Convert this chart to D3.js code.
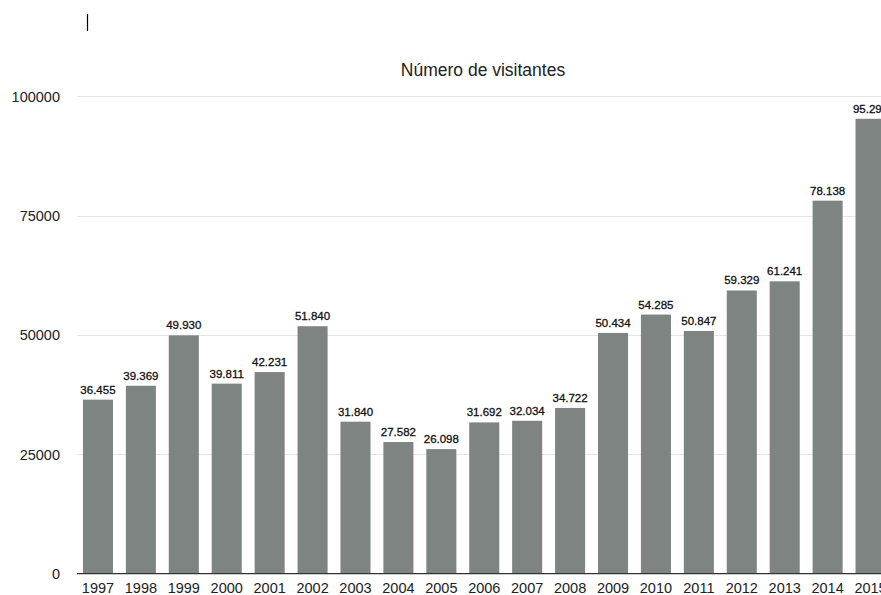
<!DOCTYPE html>
<html>
<head>
<meta charset="utf-8">
<script src="https://cdn.jsdelivr.net/npm/d3@7"></script>
<style>
  html, body { margin: 0; padding: 0; background: #fff; overflow: hidden; }
  svg { display: block; font-family: "Liberation Sans", Arial, Helvetica, sans-serif; }
</style>
</head>
<body>
<svg id="chart" width="881" height="595"></svg>
<script>
// Visitors per year
const years = ["1997","1998","1999","2000","2001","2002","2003","2004","2005","2006",
               "2007","2008","2009","2010","2011","2012","2013","2014","2015"];
const visitors = [36455, 39369, 49930, 39811, 42231, 51840, 31840, 27582, 26098, 31692,
                  32034, 34722, 50434, 54285, 50847, 59329, 61241, 78138, 95290];
const yTicks = [0, 25000, 50000, 75000, 100000];
const chartTitle = "Número de visitantes";

const svg = d3.select("#chart");

// The plot runs a little past the right edge of the window
const x = d3.scaleBand()
  .domain(years)
  .range([76.5, 892])
  .paddingInner(0.3)
  .paddingOuter(0.15);

const y = d3.scaleLinear()
  .domain([0, 100000])
  .range([573.7, 96.3]);

// European number style: "." as thousands separator
const fmt = d3.formatLocale({ decimal: ",", thousands: ".", grouping: [3], currency: ["", "€"] }).format(",d");

// Text cursor mark
svg.append("line")
  .attr("x1", 87.5).attr("x2", 87.5)
  .attr("y1", 14).attr("y2", 31)
  .attr("stroke", "#000").attr("stroke-width", 1.2);

// Title
svg.append("text")
  .attr("x", 483).attr("y", 76)
  .attr("text-anchor", "middle")
  .attr("font-size", 17.5)
  .attr("fill", "#222")
  .text(chartTitle);

// Horizontal gridlines with labels on the left
const yAxis = d3.axisLeft(y)
  .tickValues(yTicks)
  .tickSize(0)
  .tickPadding(0)
  .tickFormat(d3.format("d"));

const gy = svg.append("g").attr("transform", "translate(60,0)").call(yAxis);
gy.select(".domain").remove();
gy.selectAll("text")
  .attr("font-size", 14.5)
  .attr("font-family", "Liberation Sans, Arial, sans-serif")
  .attr("fill", "#222")
  .attr("dy", "0.34em");

svg.append("g")
  .selectAll("line")
  .data(yTicks.filter(d => d > 0))
  .join("line")
  .attr("x1", 77).attr("x2", 900)
  .attr("y1", d => Math.round(y(d)) + 0.5)
  .attr("y2", d => Math.round(y(d)) + 0.5)
  .attr("stroke", "#e4e4e4")
  .attr("stroke-width", 1);

// Bars
svg.append("g")
  .selectAll("rect")
  .data(visitors)
  .join("rect")
  .attr("x", (d, i) => x(years[i]))
  .attr("y", d => y(d))
  .attr("width", x.bandwidth())
  .attr("height", d => y(0) - y(d))
  .attr("fill", "#7e8481");

// Value labels above bars (slightly heavier stroke for a medium weight)
svg.append("g")
  .selectAll("text")
  .data(visitors)
  .join("text")
  .attr("x", (d, i) => x(years[i]) + x.bandwidth() / 2)
  .attr("y", d => y(d) - 6)
  .attr("text-anchor", "middle")
  .attr("font-size", 11.5)
  .attr("fill", "#111")
  .attr("stroke", "#111")
  .attr("stroke-width", 0.3)
  .text(d => fmt(d));

// Category axis along the baseline
const xAxis = d3.axisBottom(x).tickSize(0).tickPadding(9);
const gx = svg.append("g").attr("transform", `translate(0,${y(0)})`).call(xAxis);
gx.select(".domain").remove();
gx.selectAll("text")
  .attr("font-size", 14.5)
  .attr("font-family", "Liberation Sans, Arial, sans-serif")
  .attr("fill", "#222");

svg.append("line")
  .attr("x1", 77).attr("x2", 900)
  .attr("y1", y(0)).attr("y2", y(0))
  .attr("stroke", "#333")
  .attr("stroke-width", 1.2);
</script>
</body>
</html>
